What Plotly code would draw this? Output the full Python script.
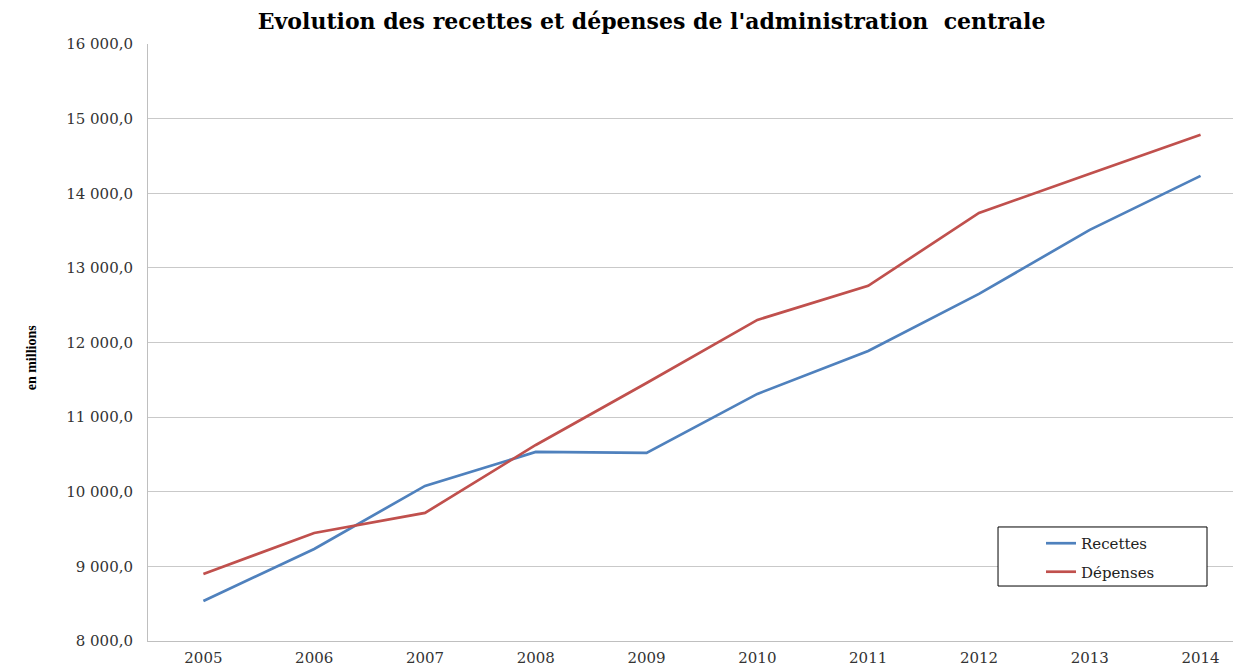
import plotly.graph_objects as go

years = ["2005", "2006", "2007", "2008", "2009", "2010", "2011", "2012", "2013", "2014"]
recettes = [8536, 9233, 10078, 10533, 10520, 11311, 11887, 12651, 13509, 14233]
depenses = [8898, 9448, 9716, 10627, 11458, 12303, 12759, 13737, 14260, 14783]

serif = "DejaVu Serif, serif"
times = "Liberation Serif, Times New Roman, serif"
xpos = list(range(len(years)))

fig = go.Figure()
fig.add_trace(go.Scatter(x=xpos, y=recettes, mode="lines", name="Recettes", legendgroup="r",
                         line=dict(color="#4F81BD", width=2.7)))
fig.add_trace(go.Scatter(x=xpos, y=depenses, mode="lines", name="Dépenses", legendgroup="d",
                         line=dict(color="#C0504D", width=2.7)))

# page has an 8px body margin, so the figure is shrunk by 8 and margins shifted
fig.update_layout(
    width=1233, height=658,
    margin=dict(l=140, r=0, t=36, b=25),
    plot_bgcolor="white", paper_bgcolor="white",
    separators=", ",
    title=dict(text="<b>Evolution des recettes et dépenses de l'administration  centrale</b>",
               x=0.522, xanchor="center", y=0.992, yanchor="top",
               font=dict(family=serif, size=22, color="black")),
    font=dict(family=serif, size=15, color="#333"),
    xaxis=dict(tickvals=xpos, ticktext=years, range=[-0.5, 9.365],
               showgrid=False, showline=True, linecolor="#bfbfbf", linewidth=1,
               ticks="", ticklabelstandoff=3, zeroline=False,
               tickfont=dict(family=serif, size=15, color="#333")),
    yaxis=dict(range=[8000, 16000], dtick=1000, tickformat=",.1f",
               showgrid=True, gridcolor="#c9c9c9", gridwidth=1,
               showline=True, linecolor="#bfbfbf", linewidth=1,
               ticks="", ticklabelstandoff=11, zeroline=False,
               tickfont=dict(family=serif, size=15, color="#333")),
    showlegend=True,
    legend=dict(x=0.817, y=0.191, xanchor="left", yanchor="top",
                borderwidth=0, bgcolor="rgba(0,0,0,0)",
                font=dict(family=serif, size=15, color="#222"),
                itemwidth=30, tracegroupgap=6),
)
fig.add_shape(type="rect", xref="paper", yref="paper", x0=0.7777, x1=0.9689, y0=0.0921, y1=0.191,
              line=dict(color="black", width=1), fillcolor="white", layer="above")
fig.add_annotation(text="<b>en millions</b>", textangle=-90, xref="paper", yref="paper",
                   x=-0.1153, y=0.476, showarrow=False,
                   font=dict(family=times, size=14, color="black"))

fig.write_html("out.html")
